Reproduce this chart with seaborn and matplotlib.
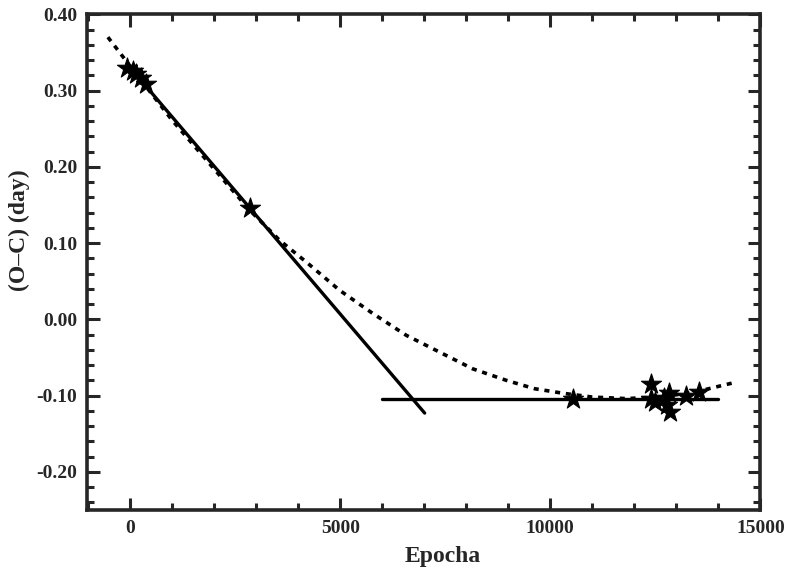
import matplotlib
matplotlib.use("Agg")
import matplotlib.pyplot as plt
import seaborn as sns
import pandas as pd
from matplotlib.ticker import MultipleLocator

# Observed minima (O-C) values
obs_epoch = [-80, 60, 150, 250, 380, 2845, 10550, 12400, 12400, 12500, 12700, 12790, 12830, 12850, 13230, 13550]
obs_oc = [0.329, 0.326, 0.322, 0.317, 0.308, 0.146, -0.104, -0.085, -0.104, -0.108, -0.103, -0.112, -0.097, -0.121, -0.100, -0.096]

# Steep linear ephemeris line
lin1_epoch = [0, 7010]
lin1_oc = [0.330, -0.123]

# Flat linear ephemeris line
lin2_epoch = [6000, 14000]
lin2_oc = [-0.104, -0.104]

# Quadratic fit (dashed)
quad_epoch = [-530, 0, 1000, 2000, 2846, 3559, 4194, 4986, 5778, 6572, 7363, 8155, 8949, 9622,
              10300, 11000, 11800, 12600, 13400, 14380]
quad_oc = [0.370, 0.332, 0.261, 0.197, 0.143, 0.1035, 0.075, 0.038, 0.0075, -0.021, -0.043, -0.065,
           -0.080, -0.091, -0.097, -0.102, -0.104, -0.102, -0.096, -0.083]

x_ticks = [0, 5000, 10000, 15000]
y_ticks = [-0.20, -0.10, 0.00, 0.10, 0.20, 0.30, 0.40]

sns.set_style("ticks")
plt.rcParams['font.family'] = ['Liberation Serif', 'DejaVu Serif']
plt.rcParams['font.weight'] = 'bold'

fig = plt.figure(figsize=(7.97, 5.71), dpi=100)
ax = fig.add_axes([0.109, 0.107, 0.845, 0.868])

df_q = pd.DataFrame({"E": quad_epoch, "OC": quad_oc})
sns.lineplot(data=df_q, x="E", y="OC", sort=False, color="black", lw=2.6,
             linestyle=(0, (1.4, 1.6)), ax=ax)
df_l1 = pd.DataFrame({"E": lin1_epoch, "OC": lin1_oc})
sns.lineplot(data=df_l1, x="E", y="OC", sort=False, color="black", lw=2.4, ax=ax)
df_l2 = pd.DataFrame({"E": lin2_epoch, "OC": lin2_oc})
sns.lineplot(data=df_l2, x="E", y="OC", sort=False, color="black", lw=2.4, ax=ax)
df_o = pd.DataFrame({"E": obs_epoch, "OC": obs_oc})
sns.scatterplot(data=df_o, x="E", y="OC", marker="*", s=230, color="black",
                edgecolor="black", linewidth=0.8, ax=ax, zorder=5)

ax.set_xlim(-1030, 15000)
ax.set_ylim(-0.25, 0.40)
ax.set_xticks(x_ticks)
ax.set_xticklabels([f"{v:d}" for v in x_ticks])
ax.set_yticks(y_ticks)
ax.set_yticklabels([f"{v:.2f}" for v in y_ticks])
ax.xaxis.set_minor_locator(MultipleLocator(1000))
ax.yaxis.set_minor_locator(MultipleLocator(0.02))
ax.tick_params(which="both", direction="in", top=True, right=True, width=2.2)
ax.tick_params(which="major", length=9, labelsize=14, pad=7)
ax.tick_params(which="minor", length=5)
for lab in ax.get_xticklabels() + ax.get_yticklabels():
    lab.set_fontweight("bold")
for sp in ax.spines.values():
    sp.set_linewidth(2.6)
    sp.set_visible(True)

ax.set_xlabel("Epocha", fontsize=17, fontweight="bold", labelpad=6)
ax.xaxis.set_label_coords(0.529, -0.073)
ax.set_ylabel("(O\u2013C) (day)", fontsize=17, fontweight="bold", labelpad=8)
ax.yaxis.set_label_coords(-0.085, 0.565)

fig.savefig("out.png", dpi=100)
